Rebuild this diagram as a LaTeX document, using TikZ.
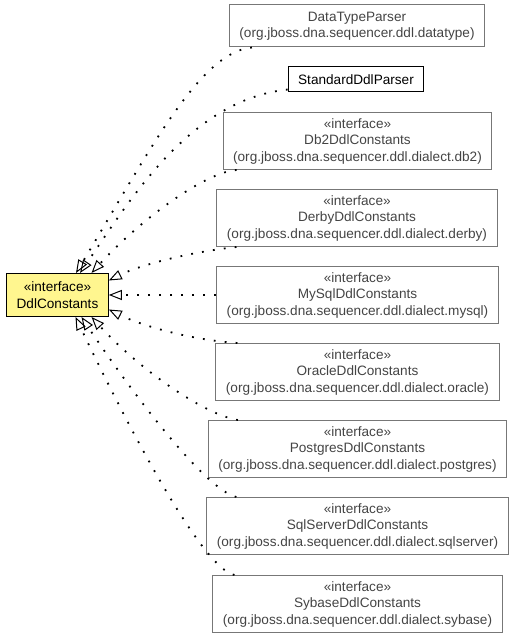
\documentclass[tikz,border=0pt]{standalone}
\usepackage{fontspec}
\setmainfont{Liberation Sans}
\usepackage{tikz}
\usetikzlibrary{arrows.meta}

\definecolor{boxgray}{HTML}{777777}
\definecolor{textgray}{HTML}{444444}
\definecolor{ifyellow}{HTML}{FFF68F}

\begin{document}
\begin{tikzpicture}[x=1pt, y=1pt,
        font=\fontsize{13.6}{16.5}\selectfont,
        every node/.style={align=center, inner xsep=10pt, inner ysep=2pt, line width=1pt},
        other/.style={draw=boxgray, text=textgray, minimum height=57pt},
        extends/.style={line width=1.8pt, dash pattern=on 1.8pt off 9.2pt,
            -{Triangle[open, length=13pt, width=10pt, line width=1pt]}}]
        \useasboundingbox (0,0) rectangle (515,640);

        \node[draw, fill=ifyellow, minimum height=43pt] (DdlConstants) at (57.5,345) {«interface»\\DdlConstants};
        \node[other, minimum height=42pt] (DataTypeParser) at (357,614) {DataTypeParser\\(org.jboss.dna.sequencer.ddl.datatype)};
        \node[draw, minimum height=25pt] (StandardDdlParser) at (356,560.5) {StandardDdlParser};
        \node[other] (Db2) at (357.5,499) {«interface»\\Db2DdlConstants\\(org.jboss.dna.sequencer.ddl.dialect.db2)};
        \node[other] (Derby) at (357,422) {«interface»\\DerbyDdlConstants\\(org.jboss.dna.sequencer.ddl.dialect.derby)};
        \node[other] (MySql) at (357.5,345) {«interface»\\MySqlDdlConstants\\(org.jboss.dna.sequencer.ddl.dialect.mysql)};
        \node[other] (Oracle) at (357.5,268) {«interface»\\OracleDdlConstants\\(org.jboss.dna.sequencer.ddl.dialect.oracle)};
        \node[other] (Postgres) at (357.5,191) {«interface»\\PostgresDdlConstants\\(org.jboss.dna.sequencer.ddl.dialect.postgres)};
        \node[other] (SqlServer) at (357.5,114) {«interface»\\SqlServerDdlConstants\\(org.jboss.dna.sequencer.ddl.dialect.sqlserver)};
        \node[other] (Sybase) at (357.5,36) {«interface»\\SybaseDdlConstants\\(org.jboss.dna.sequencer.ddl.dialect.sybase)};

        \draw[extends] ([xshift=23pt]DataTypeParser.south west) .. controls (200,588) and (150,490) .. ([xshift=18.5pt]DdlConstants.north);
        \draw[extends] ([yshift=-10pt]StandardDdlParser.west) .. controls (190,540) and (130,440) .. ([xshift=22.5pt]DdlConstants.north);
        \draw[extends] ([xshift=14pt]Db2.south west) .. controls (205,468) and (140,420) .. ([xshift=34pt]DdlConstants.north);
        \draw[extends] ([xshift=20pt]Derby.south west) .. controls (190,388) and (140,375) .. ([yshift=14.5pt]DdlConstants.east);
        \draw[extends] (MySql) -- (DdlConstants);
        \draw[extends] ([xshift=22pt]Oracle.north west) .. controls (190,300) and (140,315) .. ([yshift=-14.5pt]DdlConstants.east);
        \draw[extends] ([xshift=30pt]Postgres.north west) .. controls (205,225) and (140,270) .. ([xshift=34pt]DdlConstants.south);
        \draw[extends] ([xshift=30pt]SqlServer.north west) .. controls (205,150) and (130,250) .. ([xshift=24pt]DdlConstants.south);
        \draw[extends] ([xshift=22pt]Sybase.north west) .. controls (200,72) and (120,230) .. ([xshift=18pt]DdlConstants.south);

    \end{tikzpicture}
\end{document}
